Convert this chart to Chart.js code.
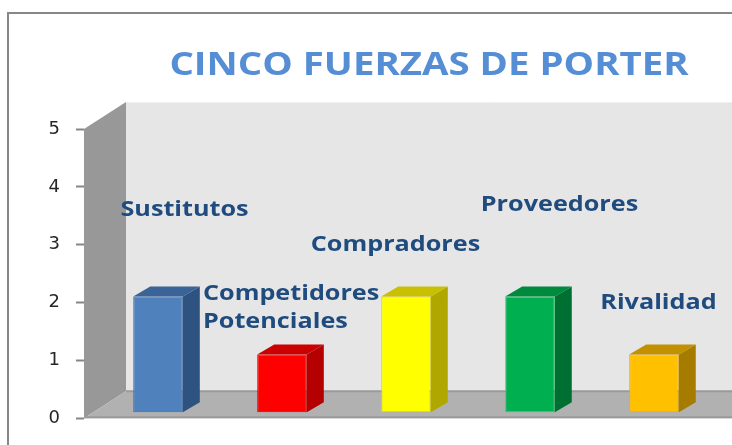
<!DOCTYPE html>
<html>
<head>
<meta charset="utf-8">
<script src="https://cdn.jsdelivr.net/npm/chart.js@4/dist/chart.umd.min.js"></script>
<style>
  html, body { margin: 0; padding: 0; background: #fff; }
  #wrap { width: 732px; height: 445px; overflow: hidden; position: relative; }
  canvas { display: block; }
</style>
</head>
<body>
<div id="wrap"><canvas id="porter" width="858" height="445"></canvas></div>
<script>
// ---------------------------------------------------------------- datos
const titleText = 'CINCO FUERZAS DE PORTER';
const categories = ['Sustitutos', 'Competidores Potenciales', 'Compradores', 'Proveedores', 'Rivalidad'];
const values = [2, 1, 2, 2, 1];
const yTicks = [0, 1, 2, 3, 4, 5];

// colores: cara frontal, lateral y superior
const frontColors = ['#4f81bd', '#ff0000', '#ffff00', '#00b050', '#ffc000'];
const borderColors = ['#3f6ea6', '#d00000', '#e0d800', '#2fcf6f', '#f0b000'];
const sideColors = ['#2f5381', '#b40000', '#b0a800', '#007032', '#a67c00'];
const topColors = ['#3a6397', '#cc0000', '#c8c000', '#008a3e', '#c29100'];

// ---------------------------------------------------------------- plugins
// fondo, borde y paredes 3D
const walls = {
    id: 'walls',
    beforeDraw(chart) {
        const c = chart.ctx, a = chart.chartArea;
        const dx = 42, dy = -27;
        c.save();
        c.fillStyle = '#fff';
        c.fillRect(0, 0, chart.width, chart.height);
        c.strokeStyle = '#878787';
        c.lineWidth = 2;
        c.strokeRect(8, 13, 2000, 2000);
        // pared del fondo
        c.fillStyle = '#e6e6e6';
        c.fillRect(a.left + dx, a.top + dy, a.right - a.left, a.bottom - a.top);
        c.strokeStyle = '#efefef';
        c.lineWidth = 1;
        c.beginPath();
        c.moveTo(a.left + dx, a.top + dy + 0.5);
        c.lineTo(a.right + dx, a.top + dy + 0.5);
        c.stroke();
        // pared lateral
        c.fillStyle = '#989898';
        c.beginPath();
        c.moveTo(a.left, a.top);
        c.lineTo(a.left + dx, a.top + dy);
        c.lineTo(a.left + dx, a.bottom + dy);
        c.lineTo(a.left, a.bottom);
        c.closePath();
        c.fill();
        // piso
        c.fillStyle = '#b1b1b1';
        c.beginPath();
        c.moveTo(a.left, a.bottom);
        c.lineTo(a.left + dx, a.bottom + dy);
        c.lineTo(a.right + dx, a.bottom + dy);
        c.lineTo(a.right + dx, a.bottom);
        c.closePath();
        c.fill();
        c.strokeStyle = '#9a9a9a';
        c.lineWidth = 2;
        c.beginPath();
        c.moveTo(a.left + dx, a.bottom + dy);
        c.lineTo(a.right + dx, a.bottom + dy);
        c.moveTo(a.left, a.bottom - 1);
        c.lineTo(a.right + dx, a.bottom - 1);
        c.stroke();
        c.restore();
    }
};

// caras lateral y superior de cada barra
const bars3d = {
    id: 'bars3d',
    afterDatasetsDraw(chart) {
        const c = chart.ctx;
        const dx = 17, dy = -10;
        chart.getDatasetMeta(0).data.forEach((bar, i) => {
            const p = bar.getProps(['x', 'y', 'base', 'width'], true);
            const l = p.x - p.width / 2, r = p.x + p.width / 2;
            c.save();
            c.fillStyle = sideColors[i];
            c.beginPath();
            c.moveTo(r, p.y);
            c.lineTo(r + dx, p.y + dy);
            c.lineTo(r + dx, p.base + dy);
            c.lineTo(r, p.base);
            c.closePath();
            c.fill();
            c.fillStyle = topColors[i];
            c.beginPath();
            c.moveTo(l, p.y);
            c.lineTo(l + dx, p.y + dy);
            c.lineTo(r + dx, p.y + dy);
            c.lineTo(r, p.y);
            c.closePath();
            c.fill();
            c.restore();
        });
    }
};

// texto estirado en horizontal, como en la imagen de Excel
const stretchText = (c, txt, x, y, sx, align) => {
    c.save();
    c.translate(x, y);
    c.scale(sx, 1);
    c.textAlign = align;
    c.fillText(txt, 0, 0);
    c.restore();
};

// titulo y etiquetas con el nombre de cada fuerza
const forceLabels = {
    id: 'forceLabels',
    afterDraw(chart, args, opts) {
        const c = chart.ctx;
        const y = chart.scales.y;
        const bars = chart.getDatasetMeta(0).data;
        c.save();
        c.textBaseline = 'alphabetic';
        c.font = opts.titleFont;
        c.fillStyle = opts.titleColor;
        stretchText(c, titleText, chart.width / 2, opts.titleBaseline, opts.stretch, 'center');
        c.font = opts.font;
        c.fillStyle = opts.color;
        c.textBaseline = 'middle';
        categories.forEach((name, i) => {
            const pl = opts.placement[i];
            name.split(' ').forEach((line, k) => {
                stretchText(c, line, bars[i].x + pl.dx, y.getPixelForValue(pl.v) + k * opts.lineHeight,
                    opts.stretch, pl.align || 'center');
            });
        });
        c.restore();
    }
};

// ---------------------------------------------------------------- chart
const ctx = document.getElementById('porter').getContext('2d');
const myChart = new Chart(ctx, {
    type: 'bar',
    data: {
        labels: categories,
        datasets: [{
            data: values.map((v, i) => ({x: i, y: v})),
            backgroundColor: frontColors,
            borderColor: borderColors,
            borderWidth: 1,
            borderSkipped: false,
            categoryPercentage: 1,
            barPercentage: 0.4,
            yAxisID: 'y2'
        }]
    },
    plugins: [walls, bars3d, forceLabels],
    options: {
        responsive: false,
        animation: false,
        layout: {
            autoPadding: false,
            padding: {left: 0, right: 40, top: 129, bottom: 22}
        },
        scales: {
            x: {
                type: 'linear',
                display: false,
                offset: false,
                min: -0.597,
                max: 5.323,
                afterBuildTicks: s => { s.ticks = categories.map((c, i) => ({value: i})); }
            },
            y: {
                min: 0,
                max: 5,
                afterFit: s => { s.width = 84; },
                afterBuildTicks: s => { s.ticks = yTicks.map(v => ({value: v})); },
                ticks: {
                    color: '#262626',
                    padding: 16,
                    font: {family: 'DejaVu Sans', size: 18}
                },
                grid: {
                    drawOnChartArea: false,
                    tickLength: 8,
                    tickColor: '#868686',
                    tickWidth: 2
                },
                border: {display: false}
            },
            y2: {
                display: false,
                min: -0.102,
                max: 4.898
            }
        },
        plugins: {
            legend: {display: false},
            tooltip: {enabled: false},
            title: {display: false},
            forceLabels: {
                titleFont: 'bold 32px "Open Sans"',
                titleColor: '#558ed5',
                titleBaseline: 75,
                font: 'bold 21px "Open Sans"',
                color: '#1f4b7e',
                lineHeight: 28,
                stretch: 1.2,
                placement: [
                    {dx: 26.5, v: 3.6},
                    {dx: -79, v: 2.14, align: 'left'},
                    {dx: -10.5, v: 3.0},
                    {dx: 29.5, v: 3.69},
                    {dx: 4.5, v: 2.0}
                ]
            }
        }
    }
});
</script>
</body>
</html>
